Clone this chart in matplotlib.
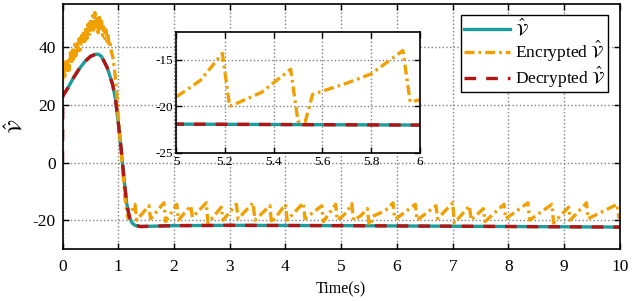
import numpy as np
import matplotlib.pyplot as plt
import matplotlib

matplotlib.rcParams['font.family'] = 'Liberation Serif'
matplotlib.rcParams['mathtext.fontset'] = 'stix'
matplotlib.rcParams['axes.unicode_minus'] = False

# estimated V (teal solid)
est_t = [0.0, 0.1, 0.2, 0.3, 0.4, 0.5, 0.6, 0.65, 0.7, 0.8, 0.9, 0.95, 1.0,
         1.05, 1.1, 1.15, 1.2, 1.25, 1.3, 1.4, 1.6, 2.0, 3.0, 5.0, 7.0, 10.0]
est_v = [23, 26, 29.5, 32.5, 35, 36.8, 37.6, 37.5, 36.8, 33, 27, 22, 14,
         5, -5, -14, -19, -21, -21.8, -22.2, -22.1, -21.9, -21.8, -21.9, -22.1, -22.4]

# decrypted V (red dashed) - starts from zero
dec_t = [0.0, 0.005] + est_t[1:]
dec_v = [0, 23] + est_v[1:]

# encrypted V (orange dash-dot)
enc_t = [0.00, 0.02, 0.04, 0.06, 0.08, 0.10, 0.12, 0.14, 0.16, 0.18,
         0.20, 0.22, 0.24, 0.26, 0.28, 0.30, 0.32, 0.34, 0.36, 0.38,
         0.40, 0.42, 0.44, 0.46, 0.48, 0.50, 0.52, 0.54, 0.56, 0.58,
         0.60, 0.62, 0.64, 0.66, 0.68, 0.70, 0.72, 0.74, 0.76, 0.78,
         0.80, 0.82, 0.84, 0.86, 0.88, 0.90, 0.92, 0.94, 0.96, 0.98,
         1.00, 1.03, 1.06, 1.09, 1.12, 1.15, 1.18,
         1.30, 1.33, 1.55, 1.58, 1.82, 1.85, 2.05, 2.08, 2.30, 2.33,
         2.58, 2.61, 2.85, 2.88, 3.12, 3.15, 3.42, 3.45, 3.72, 3.75,
         4.00, 4.03, 4.32, 4.35, 4.65, 4.68, 4.90, 4.93,
         5.00, 5.10, 5.19, 5.22, 5.35, 5.47, 5.50, 5.53, 5.56, 5.70,
         5.80, 5.93, 5.96, 6.00, 6.33, 6.36, 6.70, 6.73, 7.00, 7.03,
         7.30, 7.33, 7.55, 7.58, 7.92, 7.95, 8.35, 8.38, 8.78, 8.81,
         9.08, 9.11, 9.40, 9.43, 9.95, 9.98, 10.0]
enc_v = [28, 34, 29, 35, 31, 36, 32, 38, 34, 39,
         35, 41, 37, 42, 38, 43, 39, 44, 41, 46,
         42, 47, 43, 48, 44, 49, 45, 51, 46, 52,
         47, 50, 45, 51, 46, 49, 44, 47, 43, 46,
         42, 44, 40, 41, 38, 37, 34, 31, 27, 22,
         16, 9, 2, -5, -12, -17, -19.5,
         -14.5, -20, -15, -19.5, -14, -20.5, -14.5, -20, -15, -19,
         -14, -21, -15.5, -20, -14.5, -19.5, -14, -20, -15, -21,
         -14.5, -20, -14, -19.5, -15, -20.5, -14.5, -20,
         -19, -17.2, -14.3, -20, -18.5, -16, -21.6, -21.6, -18.7, -17.5,
         -16.5, -14, -19.5, -19.3, -14.5, -20, -15, -19.5, -14, -21,
         -15, -20, -16, -20.5, -14.5, -19.5, -14, -20, -14.5, -21,
         -15.5, -20, -14, -19.5, -14.5, -19, -19]

x_ticks = np.arange(0, 11, 1)
y_ticks = [-20, 0, 20, 40]
inset_xticks = [5, 5.2, 5.4, 5.6, 5.8, 6]
inset_yticks = [-25, -20, -15]

teal = "#1e9c9c"
orange = "#f0a000"
red = "#b41414"
enc_style = (0, (3, 1.2, 0.8, 1.2))
dec_style = (0, (3.5, 3))


def draw_lines(ax, lw):
    ax.plot(est_t, est_v, color=teal, linewidth=lw, linestyle='-', label=r'$\hat{\mathcal{V}}$')
    ax.plot(enc_t, enc_v, color=orange, linewidth=lw, linestyle=enc_style,
            label=r'Encrypted $\hat{\mathcal{V}}$')
    ax.plot(dec_t, dec_v, color=red, linewidth=lw, linestyle=dec_style,
            label=r'Decrypted $\hat{\mathcal{V}}$')


def style_axes(ax, size):
    ax.grid(True, linestyle=':', color='#808080', linewidth=1.0)
    ax.tick_params(axis='both', which='major', labelsize=size, direction='in',
                   top=True, right=True, length=4, width=1)
    for sp in ax.spines.values():
        sp.set_linewidth(1.2)
        sp.set_color('k')


fig = plt.figure(figsize=(6.32, 3.01), dpi=100)
ax = fig.add_axes([0.0989, 0.1728, 0.882, 0.814])
draw_lines(ax, 2.4)
ax.set_xlim(0, 10)
ax.set_ylim(-30, 55)
ax.set_xticks(x_ticks)
ax.set_yticks(y_ticks)
style_axes(ax, 12.5)
ax.tick_params(axis='x', pad=7)
ax.tick_params(axis='y', pad=5)
ax.set_xlabel("Time(s)", fontsize=11.5, labelpad=5)
ax.set_ylabel(r'$\hat{\mathcal{V}}$', fontsize=14, labelpad=4)
leg = ax.legend(loc='upper right', bbox_to_anchor=(0.9785, 0.955), fontsize=12.5,
                fancybox=False, edgecolor='k', framealpha=1, handlelength=2.7,
                borderpad=0.15, labelspacing=0.0, handletextpad=0.25,
                borderaxespad=0)
leg.get_frame().set_linewidth(1.0)

axi = fig.add_axes([0.2785, 0.4917, 0.386, 0.402])
draw_lines(axi, 2.4)
axi.set_xlim(5, 6)
axi.set_ylim(-25, -12)
axi.set_xticks(inset_xticks)
axi.set_xticklabels(["5", "5.2", "5.4", "5.6", "5.8", "6"])
axi.set_yticks(inset_yticks)
style_axes(axi, 9.5)
axi.tick_params(axis='x', pad=2)
axi.tick_params(axis='y', pad=2)

plt.savefig("out.png", dpi=100)
plt.close("all")
